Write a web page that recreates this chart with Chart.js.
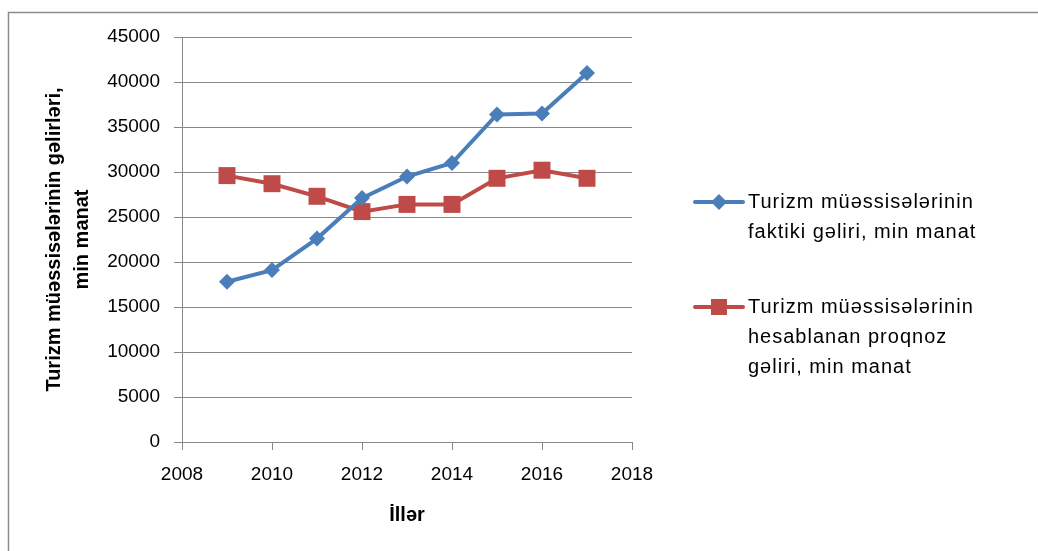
<!DOCTYPE html>
<html>
<head>
<meta charset="utf-8">
<script src="https://cdn.jsdelivr.net/npm/chart.js@4"></script>
<style>
  html, body { margin: 0; padding: 0; background: #fff; }
  #wrap { width: 1038px; height: 551px; position: relative; }
</style>
</head>
<body>
<div id="wrap"><canvas id="turizmChart"></canvas></div>
<script>
// illər (x oxu)
var years = [2009, 2010, 2011, 2012, 2013, 2014, 2015, 2016, 2017];
// faktiki gəlir, min manat
var faktiki = [17800, 19100, 22600, 27100, 29500, 31000, 36400, 36500, 41000];
// hesablanan proqnoz gəlir, min manat
var proqnoz = [29600, 28700, 27300, 25600, 26400, 26400, 29300, 30200, 29300];

var xTicks = [2008, 2010, 2012, 2014, 2016, 2018];
var yTicks = [0, 5000, 10000, 15000, 20000, 25000, 30000, 35000, 40000, 45000];

var legendLines = [
    ["Turizm müəssisələrinin", "faktiki gəliri, min manat"],
    ["Turizm müəssisələrinin", "hesablanan proqnoz", "gəliri, min manat"]
];

var blue = "#4a7ebb";
var red = "#be4b48";
var gridGray = "#878787";
var fontFam = "'Liberation Sans', 'DejaVu Sans', sans-serif";

function pts(vals) {
    return vals.map(function(v, i) { return { x: years[i], y: v }; });
}

// ramka (çərçivə)
var framePlugin = {
    id: "frame",
    beforeDraw: function(chart) {
        var ctx = chart.ctx;
        ctx.save();
        ctx.fillStyle = "#fff";
        ctx.fillRect(0, 0, chart.width, chart.height);
        ctx.strokeStyle = "#8c8c8c";
        ctx.lineWidth = 1.5;
        ctx.beginPath();
        ctx.moveTo(8.5, chart.height);
        ctx.lineTo(8.5, 12.5);
        ctx.lineTo(chart.width, 12.5);
        ctx.stroke();
        ctx.restore();
    }
};

// sağ tərəfdə legend
var sideLegend = {
    id: "sideLegend",
    afterDraw: function(chart) {
        var ctx = chart.ctx;
        var tops = [202, 307];
        ctx.save();
        ctx.font = "20px " + fontFam;
        ctx.letterSpacing = "1px";
        ctx.textBaseline = "middle";
        chart.data.datasets.forEach(function(ds, i) {
            var y = tops[i];
            ctx.strokeStyle = ds.borderColor;
            ctx.lineWidth = 4;
            ctx.lineCap = "round";
            ctx.beginPath();
            ctx.moveTo(695, y);
            ctx.lineTo(743, y);
            ctx.stroke();
            ctx.fillStyle = ds.backgroundColor;
            ctx.beginPath();
            if (ds.pointStyle === "rect") {
                ctx.rect(711, y - 8, 16, 16);
            } else {
                ctx.moveTo(719, y - 8);
                ctx.lineTo(727, y);
                ctx.lineTo(719, y + 8);
                ctx.lineTo(711, y);
                ctx.closePath();
            }
            ctx.fill();
            ctx.fillStyle = "#000";
            legendLines[i].forEach(function(line, k) {
                ctx.fillText(line, 748, y + k * 30);
            });
        });
        ctx.restore();
    }
};

var ctxTurizm = document.getElementById("turizmChart");

var turizmChart = new Chart(ctxTurizm, {
    type: "line",
    data: {
        datasets: [
            {
                label: legendLines[0].join(" "),
                data: pts(faktiki),
                borderColor: blue,
                backgroundColor: blue,
                borderWidth: 4,
                pointStyle: "rectRot",
                pointRadius: 8,
                pointBorderWidth: 0,
                tension: 0
            },
            {
                label: legendLines[1].join(" "),
                data: pts(proqnoz),
                borderColor: red,
                backgroundColor: red,
                borderWidth: 4,
                pointStyle: "rect",
                pointRadius: 12,
                pointBorderWidth: 0,
                tension: 0
            }
        ]
    },
    options: {
        responsive: true,
        maintainAspectRatio: false,
        animation: false,
        layout: {
            padding: { left: 0, top: 37, right: 406, bottom: 0 }
        },
        plugins: {
            legend: { display: false },
            tooltip: { enabled: false }
        },
        scales: {
            x: {
                type: "linear",
                min: 2008,
                max: 2018,
                afterFit: function(s) { s.height = 109; },
                afterBuildTicks: function(s) {
                    s.ticks = xTicks.map(function(v) { return { value: v }; });
                },
                grid: {
                    drawOnChartArea: false,
                    drawTicks: true,
                    tickLength: 8,
                    color: gridGray
                },
                border: { display: true, color: gridGray, width: 1 },
                ticks: {
                    color: "#000",
                    padding: 13,
                    font: { family: fontFam, size: 19 },
                    callback: function(v) { return String(v); }
                },
                title: {
                    display: true,
                    text: "İllər",
                    color: "#000",
                    font: { family: fontFam, size: 20, weight: "bold", lineHeight: 1.2 },
                    padding: { top: 0, bottom: 24 }
                }
            },
            y: {
                min: 0,
                max: 45000,
                afterFit: function(s) { s.width = 182; },
                afterBuildTicks: function(s) {
                    s.ticks = yTicks.map(function(v) { return { value: v }; });
                },
                grid: {
                    color: gridGray,
                    tickLength: 8,
                    lineWidth: 1
                },
                border: { display: true, color: gridGray, width: 1 },
                ticks: {
                    color: "#000",
                    padding: 14,
                    font: { family: fontFam, size: 19 },
                    callback: function(v) { return String(v); }
                },
                title: {
                    display: true,
                    text: ["Turizm müəssisələrinin gəlirləri,", "min manat"],
                    color: "#000",
                    font: { family: fontFam, size: 20, weight: "bold", lineHeight: 1.4 },
                    padding: { top: 40 }
                }
            }
        }
    },
    plugins: [framePlugin, sideLegend]
});
</script>
</body>
</html>
